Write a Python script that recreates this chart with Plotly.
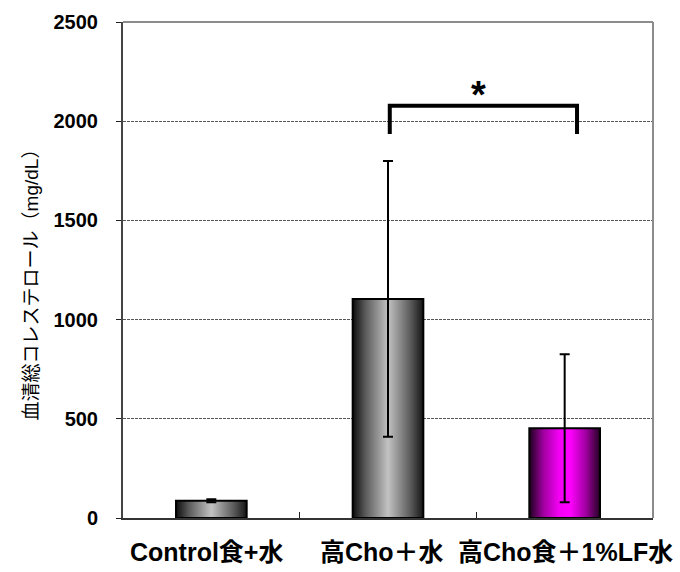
import plotly.graph_objects as go

# Serum total cholesterol by diet group
categories = ["Control食+水", "高Cho＋水", "高Cho食＋1%LF水"]
means = [87, 1104, 452]
sd = [7, 695, 373]
y_ticks = [0, 500, 1000, 1500, 2000, 2500]

BAR_W = 0.4
gray_scale = [[0.0, "#0c0c0c"], [0.18, "#5a5a5a"], [0.5, "#c2c2c2"],
              [0.82, "#5a5a5a"], [1.0, "#151515"]]
magenta_scale = [[0.0, "#1c001c"], [0.2, "#a000a0"], [0.42, "#f400f4"],
                 [0.58, "#ff00ff"], [0.8, "#a000a0"], [1.0, "#220022"]]
scales = [gray_scale, gray_scale, magenta_scale]
FONT = "Liberation Sans, Noto Sans CJK JP"

fig = go.Figure()

# gradient-filled bar bodies with black outline
for i, (v, cs) in enumerate(zip(means, scales)):
    x0, x1 = i - BAR_W / 2, i + BAR_W / 2
    fig.add_trace(go.Scatter(
        x=[x0, x1, x1, x0, x0], y=[0, 0, v, v, 0],
        mode="lines", fill="toself", line=dict(width=2, color="#000"),
        fillgradient=dict(type="horizontal", colorscale=cs),
        hoverinfo="skip", showlegend=False))

# SD error bars drawn over the bars
fig.add_trace(go.Scatter(
    x=list(range(len(categories))), y=means, mode="markers",
    marker=dict(color="rgba(0,0,0,0)", size=1),
    error_y=dict(type="data", array=sd, visible=True, color="#000",
                 thickness=2, width=5),
    showlegend=False))

# significance bracket between groups 2 and 3
bx0, bx1, by_low, by_top = 1.01, 2.07, 1935, 2078
fig.add_shape(type="path",
              path=f"M {bx0},{by_low} L {bx0},{by_top} L {bx1},{by_top} L {bx1},{by_low}",
              xref="x", yref="y", line=dict(color="#000", width=4))
fig.add_annotation(x=(bx0 + bx1) / 2 - 0.03, y=by_top, yshift=-12, text="<b>*</b>",
                   showarrow=False, font=dict(size=38, color="#000", family=FONT),
                   xref="x", yref="y", yanchor="bottom")

# top and right frame lines (lighter grey)
fig.add_shape(type="line", xref="paper", yref="paper", x0=0, x1=1, y0=1, y1=1,
              line=dict(color="#8c8c8c", width=2))
fig.add_shape(type="line", xref="paper", yref="paper", x0=1, x1=1, y0=0, y1=1,
              line=dict(color="#8c8c8c", width=2))

# category labels
label_shift = [-5, -6, 1]
for i, c in enumerate(categories):
    fig.add_annotation(x=i, y=0, xref="x", yref="paper", yshift=-34,
                       xshift=label_shift[i],
                       yanchor="middle", text=f"<b>{c}</b>", showarrow=False,
                       font=dict(size=25, color="#000", family=FONT))

# y-axis title
fig.add_annotation(x=0, y=0.48, xref="paper", yref="paper", xshift=-104,
                   text="血清総コレステロール（mg/dL）", textangle=-90,
                   showarrow=False,
                   font=dict(size=19, color="#000", family=FONT))

fig.update_layout(
    width=680, height=572,
    margin=dict(l=123, r=27, t=22, b=54),
    paper_bgcolor="white", plot_bgcolor="white",
    font=dict(family=FONT, color="#000"),
    xaxis=dict(range=[-0.5, 2.5], tickvals=[0.5, 1.5], ticktext=["", ""],
               ticks="inside", ticklen=6, tickwidth=1, tickcolor="#222",
               showline=True, linecolor="#333", linewidth=2,
               showgrid=False, zeroline=False, fixedrange=True),
    yaxis=dict(range=[0, 2500], tickvals=y_ticks,
               ticktext=[f"<b>{t}</b>" for t in y_ticks],
               ticks="outside", ticklen=5, tickwidth=1, tickcolor="#222",
               tickfont=dict(size=20, color="#000"), ticklabelstandoff=14,
               showline=True, linecolor="#444", linewidth=2,
               showgrid=True, gridcolor="#555", griddash="3px,1px", gridwidth=1,
               zeroline=False, fixedrange=True),
)

fig.write_html("out.html")
